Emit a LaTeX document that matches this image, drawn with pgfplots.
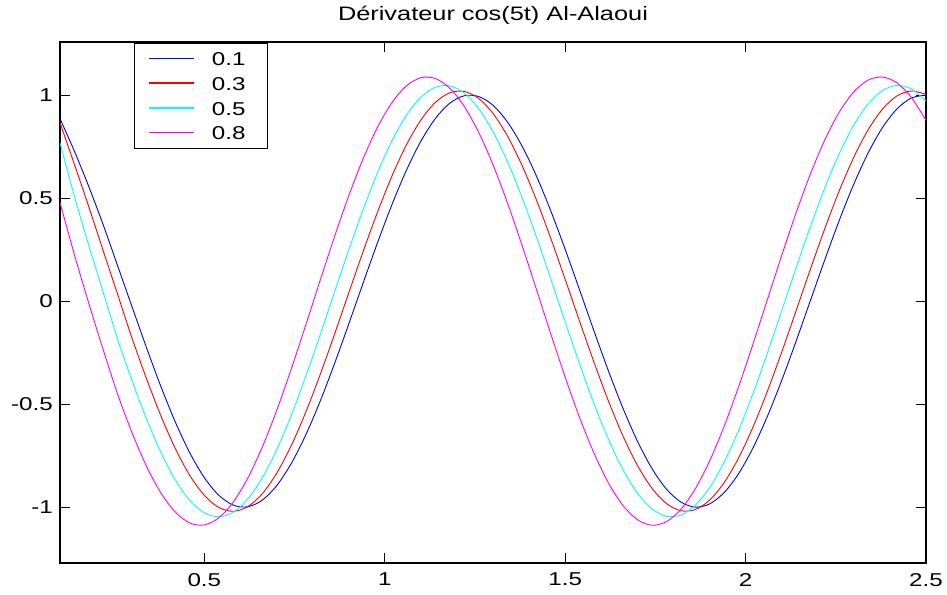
\documentclass[border=0pt]{standalone}
\usepackage{fontspec}
\setmainfont{Liberation Sans}[FakeStretch=1.3]
\usepackage{pgfplots}
\usepackage{pgfplotstable}
\pgfplotsset{compat=1.18}

\definecolor{cblue}{rgb}{0,0,1}
\definecolor{cred}{rgb}{1,0,0}
\definecolor{ccyan}{rgb}{0,1,1}
\definecolor{cmagenta}{rgb}{1,0,1}

% Differentiator output for cos(5t), one column per parameter value
\pgfplotstableread{
t    a01     a03     a05     a08
0.10 0.885   0.866   0.769   0.478
0.14 0.727   0.663   0.508   0.225
0.18 0.555   0.457   0.269   -0.012
0.22 0.369   0.243   0.042   -0.237
0.26 0.1700  0.031   -0.1866 -0.4527
0.30 -0.0292 -0.1818 -0.3876 -0.6403
0.34 -0.2272 -0.3776 -0.5731 -0.8023
0.38 -0.4161 -0.5583 -0.7357 -0.9323
0.42 -0.5885 -0.7168 -0.8691 -1.0251
0.46 -0.7374 -0.8467 -0.9677 -1.0771
0.50 -0.8569 -0.9428 -1.0280 -1.0862
0.54 -0.9422 -1.0015 -1.0470 -1.0519
0.58 -0.9900 -1.0200 -1.0244 -0.9757
0.62 -0.9983 -0.9980 -0.9609 -0.8606
0.66 -0.9668 -0.9362 -0.8592 -0.7111
0.70 -0.8968 -0.8370 -0.7232 -0.5334
0.74 -0.7910 -0.7045 -0.5583 -0.3343
0.78 -0.6536 -0.5439 -0.3713 -0.1221
0.82 -0.4903 -0.3617 -0.1693 0.0952
0.86 -0.3073 -0.1649 0.0394  0.3087
0.90 -0.1122 0.0384  0.2465  0.5097
0.94 0.0875  0.2401  0.4437  0.6906
0.98 0.2837  0.4323  0.6233  0.8439
1.02 0.4685  0.6072  0.7780  0.9634
1.06 0.6347  0.7580  0.9017  1.0447
1.10 0.7756  0.8784  0.9894  1.0842
1.14 0.8855  0.9639  1.0378  1.0806
1.18 0.9602  1.0110  1.0447  1.0338
1.22 0.9965  1.0178  1.0099  0.9459
1.26 0.9932  0.9839  0.9350  0.8202
1.30 0.9502  0.9109  0.8227  0.6619
1.34 0.8694  0.8015  0.6777  0.4771
1.38 0.7539  0.6602  0.5056  0.2734
1.42 0.6084  0.4926  0.3134  0.0588
1.46 0.4385  0.3053  0.1087  -0.1583
1.50 0.2513  0.1059  -0.1005 -0.3690
1.54 0.0540  -0.0979 -0.3050 -0.5650
1.58 -0.1455 -0.2971 -0.4983 -0.7384
1.62 -0.3392 -0.4854 -0.6713 -0.8825
1.66 -0.5193 -0.6540 -0.8175 -0.9913
1.70 -0.6787 -0.7964 -0.9312 -1.0606
1.74 -0.8111 -0.9072 -1.0075 -1.0879
1.78 -0.9111 -0.9815 -1.0441 -1.0712
1.82 -0.9748 -1.0171 -1.0388 -1.0123
1.86 -0.9999 -1.0120 -0.9921 -0.9129
1.90 -0.9846 -0.9666 -0.9059 -0.7772
1.94 -0.9304 -0.8825 -0.7836 -0.6104
1.98 -0.8391 -0.7634 -0.6300 -0.4192
2.02 -0.7143 -0.6137 -0.4513 -0.2114
2.06 -0.5610 -0.4396 -0.2545 0.0048
2.10 -0.3853 -0.2480 -0.0477 0.2209
2.14 -0.1943 -0.0465 0.1610  0.4281
2.18 0.0044  0.1569  0.3634  0.6183
2.22 0.2030  0.3540  0.5512  0.7838
2.26 0.3935  0.5370  0.7171  0.9182
2.30 0.5683  0.6986  0.8544  1.0158
2.34 0.7204  0.8323  0.9576  1.0730
2.38 0.8439  0.9329  1.0226  1.0873
2.42 0.9336  0.9962  1.0469  1.0584
2.46 0.9862  1.0199  1.0294  0.9874
2.50 0.9994  1.0029  0.9709  0.8768
}\derivdata

\begin{document}
\begin{tikzpicture}
\begin{axis}[
  name=ax,
  scale only axis,
  width=866bp, height=521bp,
  xmin=0.1, xmax=2.5,
  ymin=-1.271, ymax=1.2575,
  xtick={0.5,1,1.5,2,2.5},
  ytick={-1,-0.5,0,0.5,1},
  tick align=inside,
  major tick length=10bp,
  tick style={black, line width=0.8bp},
  axis line style={black, line width=1.1bp},
  /pgf/number format/assume math mode=true,
  tick label style={font=\fontsize{18.6bp}{22bp}\selectfont, inner sep=0pt},
  xticklabel style={anchor=north, yshift=-10bp},
  yticklabel style={anchor=east, xshift=-7bp},
  title={Dérivateur cos(5t) Al-Alaoui},
  title style={at={(0.5,1)}, anchor=base, yshift=15.3bp, inner sep=0pt,
               font=\fontsize{19.5bp}{23bp}\selectfont},
  legend cell align=left,
  legend image code/.code={\draw[#1, line width=1.3bp] (0bp,0.5bp) -- (45bp,0.5bp);},
  legend style={
    at={(0.0855,1)}, anchor=north west, yshift=-1bp,
    draw=black, line width=1bp, fill=white,
    inner xsep=14bp, inner ysep=8.7bp,
    row sep=11.5bp,
    font=\fontsize{18.6bp}{22bp}\selectfont,
    nodes={inner sep=0pt, text height=13.3bp, text depth=0bp},
    /tikz/every odd column/.append style={column sep=17bp},
  },
  every axis plot/.append style={line width=0.9bp, smooth},
]
\addplot[cblue] table[x=t, y=a01] {\derivdata};
\addplot[cred] table[x=t, y=a03] {\derivdata};
\addplot[ccyan] table[x=t, y=a05] {\derivdata};
\addplot[cmagenta] table[x=t, y=a08] {\derivdata};
\legend{\makebox[42bp][l]{0.1}, \makebox[42bp][l]{0.3}, \makebox[42bp][l]{0.5}, \makebox[42bp][l]{0.8}}
\end{axis}
\pgfresetboundingbox
\path[use as bounding box]
  ([shift={(-60bp,-32bp)}]ax.south west) rectangle ([shift={(21bp,42bp)}]ax.north east);
\end{tikzpicture}
\end{document}
